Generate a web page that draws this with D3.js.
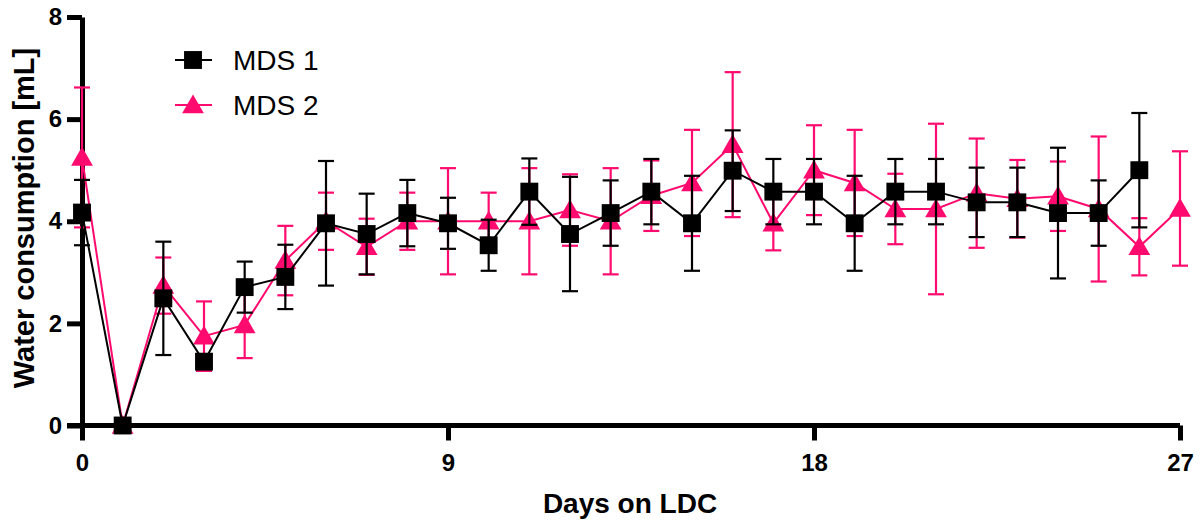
<!DOCTYPE html>
<html>
<head>
<meta charset="utf-8">
<script src="https://cdn.jsdelivr.net/npm/d3@7"></script>
<style>
  body { margin: 0; background: #fff; }
  text { font-family: "Liberation Sans", Arial, sans-serif; }
</style>
</head>
<body>
<div id="my_dataviz"></div>
<script>
// days on LDC
var days = [0,1,2,3,4,5,6,7,8,9,10,11,12,13,14,15,16,17,18,19,20,21,22,23,24,25,26,27];

// MDS 1 (no value on day 27)
var mds1_mean = [4.17,0,2.49,1.25,2.71,2.91,3.96,3.75,4.16,3.96,3.53,4.58,3.75,4.16,4.58,3.96,4.99,4.58,4.58,3.96,4.58,4.58,4.37,4.37,4.16,4.16,5.00];
var mds1_sd   = [0.64,0,1.11,0.10,0.50,0.63,1.22,0.79,0.65,0.50,0.50,0.65,1.12,0.64,0.64,0.93,0.79,0.64,0.64,0.93,0.64,0.64,0.68,0.68,1.28,0.64,1.12];

// MDS 2
var mds2_mean = [5.25,0,2.74,1.75,1.97,3.23,4.00,3.50,4.00,4.00,4.00,4.00,4.22,4.00,4.50,4.75,5.50,3.96,5.00,4.75,4.24,4.24,4.55,4.44,4.49,4.24,3.50,4.25];
var mds2_sd   = [1.37,0,0.55,0.68,0.65,0.68,0.56,0.55,0.56,1.04,0.56,1.04,0.70,1.04,0.69,1.04,1.42,0.53,0.88,1.04,0.69,1.67,1.07,0.76,0.68,1.42,0.56,1.12];

var xticks = [0,9,18,27];
var yticks = [0,2,4,6,8];

var pink = "#ff0a6e";
var width = 1200, height = 524;

var svg = d3.select("#my_dataviz")
    .append("svg")
    .attr("width", width)
    .attr("height", height);

var x = d3.scaleLinear().domain([0,27]).range([82,1180]);
var y = d3.scaleLinear().domain([0,8]).range([425.5,17]);

function series(mean, sd) {
    var out = [];
    mean.forEach(function(m, i) {
        out.push({day: days[i], mean: m, sd: sd[i]});
    });
    return out;
}

var series_list = [
    {name: "MDS 2", color: pink, data: series(mds2_mean, mds2_sd), shape: d3.symbolTriangle, size: 205},
    {name: "MDS 1", color: "#000", data: series(mds1_mean, mds1_sd), shape: d3.symbolSquare, size: 320}
];

// axes
var xAxis = svg.append("g")
    .attr("transform", "translate(0," + y(0) + ")")
    .call(d3.axisBottom(x).tickValues(xticks).tickSize(15).tickSizeOuter(0).tickPadding(13));
var yAxis = svg.append("g")
    .attr("transform", "translate(" + x(0) + ",0)")
    .call(d3.axisLeft(y).tickValues(yticks).tickSize(15).tickSizeOuter(0).tickPadding(5));

[xAxis, yAxis].forEach(function(a) {
    a.select(".domain").attr("stroke", "#000").attr("stroke-width", 5);
    a.selectAll(".tick line").attr("stroke", "#000").attr("stroke-width", 5);
    a.selectAll(".tick text")
        .attr("fill", "#000")
        .style("font-size", "24px")
        .style("font-weight", "bold")
        .style("font-family", "'Liberation Sans', Arial, sans-serif");
});
xAxis.select(".domain").attr("d", "M" + (x(0) - 15) + ",0H" + x(27));

svg.append("text")
    .text("Days on LDC")
    .attr("text-anchor", "middle")
    .attr("x", 630)
    .attr("y", 513)
    .style("font-size", "28px")
    .style("font-weight", "bold");

svg.append("text")
    .text("Water consumption [mL]")
    .attr("text-anchor", "middle")
    .attr("transform", "translate(34,218) rotate(-90)")
    .style("font-size", "29px")
    .style("font-weight", "bold");

var line = d3.line()
    .x(function(d) { return x(d.day); })
    .y(function(d) { return y(d.mean); });

series_list.forEach(function(s) {
    var g = svg.append("g");

    // error bars
    var eb = g.selectAll(".err")
        .data(s.data.filter(function(d) { return d.sd > 0; }))
        .enter().append("g")
        .attr("stroke", s.color)
        .attr("stroke-width", 2.2);
    eb.append("line")
        .attr("x1", function(d) { return x(d.day); })
        .attr("x2", function(d) { return x(d.day); })
        .attr("y1", function(d) { return y(d.mean + d.sd); })
        .attr("y2", function(d) { return y(d.mean - d.sd); });
    eb.append("line")
        .attr("x1", function(d) { return x(d.day) - 8; })
        .attr("x2", function(d) { return x(d.day) + 8; })
        .attr("y1", function(d) { return y(d.mean + d.sd); })
        .attr("y2", function(d) { return y(d.mean + d.sd); });
    eb.append("line")
        .attr("x1", function(d) { return x(d.day) - 8; })
        .attr("x2", function(d) { return x(d.day) + 8; })
        .attr("y1", function(d) { return y(d.mean - d.sd); })
        .attr("y2", function(d) { return y(d.mean - d.sd); });

    g.append("path")
        .datum(s.data)
        .attr("fill", "none")
        .attr("stroke", s.color)
        .attr("stroke-width", 2)
        .attr("d", line);

    g.selectAll(".pt")
        .data(s.data)
        .enter().append("path")
        .attr("d", d3.symbol().type(s.shape).size(s.size))
        .attr("fill", s.color)
        .attr("transform", function(d) {
            var off = s.shape == d3.symbolTriangle ? 2 : 0;
            return "translate(" + x(d.day) + "," + (y(d.mean) + off) + ")";
        });
});

// legend
var legend = svg.append("g");
[series_list[1], series_list[0]].forEach(function(s, i) {
    var ly = 60 + i * 45;
    legend.append("line")
        .attr("x1", 175).attr("x2", 212)
        .attr("y1", ly).attr("y2", ly)
        .attr("stroke", s.color)
        .attr("stroke-width", 2);
    legend.append("path")
        .attr("d", d3.symbol().type(s.shape).size(s.size))
        .attr("fill", s.color)
        .attr("transform", "translate(193," + (ly + (s.shape == d3.symbolTriangle ? 2 : 0)) + ")");
    legend.append("text")
        .text(s.name)
        .attr("x", 233)
        .attr("y", ly + 10)
        .style("font-size", "28px");
});
</script>
</body>
</html>
